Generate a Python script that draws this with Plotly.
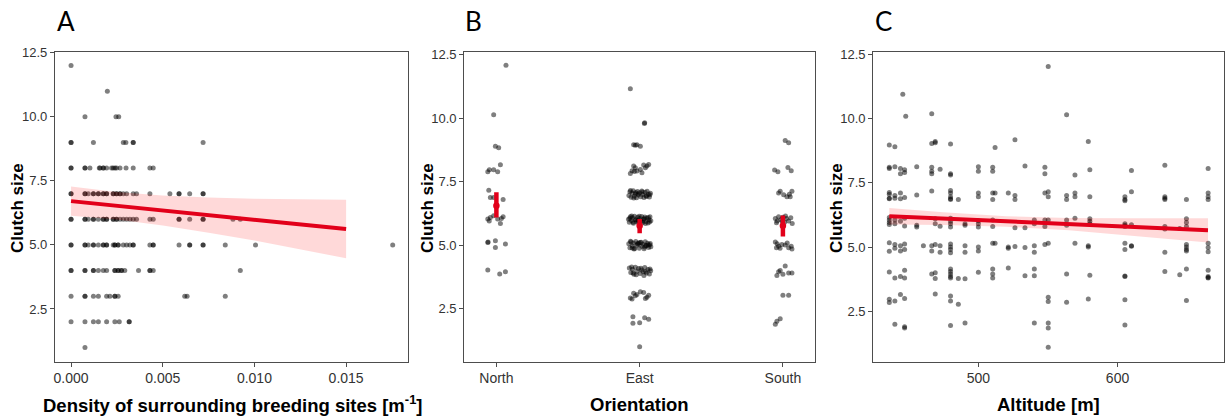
import plotly.graph_objects as go

W, H = 1227, 417

# ---------------- Panel A data: density of surrounding breeding sites, one list per clutch size
a_x_12 = [0.0]
a_x_11 = [0.00198]
a_x_10 = [0.00076, 0.00245, 0.0026]
a_x_9 = [0.0, 0.0, 0.00122, 0.00285, 0.00299, 0.00339, 0.00339, 0.0072]
a_x_8 = [0.0, 0.0, 0.00076, 0.00076, 0.00103, 0.00154, 0.00158, 0.00176, 0.00176, 0.00194,
         0.00221, 0.0023, 0.0024, 0.00248, 0.00267, 0.003, 0.00339, 0.0043, 0.00448]
a_x_7 = [0.0, 0.0, 0.00076, 0.00076, 0.00094, 0.00122, 0.00122, 0.00149, 0.00149, 0.00176,
         0.00176, 0.00194, 0.00194, 0.0023, 0.0023, 0.00248, 0.00248, 0.00267, 0.00267,
         0.00285, 0.00303, 0.00339, 0.00357, 0.0043, 0.00539, 0.00589, 0.00589, 0.00647,
         0.0072, 0.0072]
a_x_6 = [0.0, 0.0, 0.00076, 0.00076, 0.00094, 0.00122, 0.00122, 0.00149, 0.00176, 0.00176,
         0.00194, 0.00194, 0.0023, 0.0023, 0.00248, 0.00248, 0.00267, 0.00285, 0.00303,
         0.00321, 0.00339, 0.00357, 0.0043, 0.00448, 0.00589, 0.00589, 0.00647, 0.0072,
         0.0072, 0.00883, 0.00923]
a_x_5 = [0.0, 0.0, 0.00076, 0.00076, 0.00094, 0.00122, 0.00122, 0.00149, 0.00176, 0.00176,
         0.00194, 0.00194, 0.0023, 0.00239, 0.00239, 0.00257, 0.00257, 0.00285, 0.00303,
         0.00321, 0.00339, 0.00339, 0.0043, 0.00448, 0.00448, 0.00589, 0.00647, 0.00647,
         0.0072, 0.0072, 0.00841, 0.01006, 0.01754]
a_x_4 = [0.0, 0.0, 0.00076, 0.00076, 0.00122, 0.00122, 0.00149, 0.00176, 0.00194, 0.00239,
         0.00239, 0.00257, 0.00257, 0.00275, 0.00275, 0.00293, 0.00368, 0.0043, 0.0043,
         0.00448, 0.00923]
a_x_3 = [0.0, 0.00076, 0.00076, 0.00122, 0.00149, 0.00194, 0.00212, 0.00239, 0.00239,
         0.00257, 0.0062, 0.00633, 0.00841]
a_x_2 = [0.0, 0.00076, 0.00122, 0.00149, 0.00194, 0.00239, 0.00263, 0.00317, 0.00317]
a_x_1 = [0.00076]
a_sizes = [12, 11, 10, 9, 8, 7, 6, 5, 4, 3, 2, 1]
a_rows = [a_x_12, a_x_11, a_x_10, a_x_9, a_x_8, a_x_7, a_x_6, a_x_5, a_x_4, a_x_3, a_x_2, a_x_1]

a_band_x = [0.0, 0.0025, 0.005, 0.0075, 0.010, 0.0125, 0.015]
a_fit = [6.71, 6.53, 6.35, 6.17, 5.98, 5.80, 5.62]
a_upper = [7.28, 7.07, 6.93, 6.85, 6.80, 6.77, 6.76]
a_lower = [6.14, 5.99, 5.76, 5.48, 5.17, 4.83, 4.48]
a_xticks = [0.0, 0.005, 0.010, 0.015]
a_xticktext = ["0.000", "0.005", "0.010", "0.015"]

# ---------------- Panel B data: orientation (jittered points)
orient_cats = ["North", "East", "South"]
north_dx = [0.067, -0.019, -0.007, 0.016, -0.060, -0.049, -0.019, 0.009, 0.028,
            -0.053, -0.042, -0.019, 0.047, -0.060, -0.042, -0.019, 0.009, 0.028,
            0.047, -0.050, 0.035, -0.060, -0.007, -0.007, 0.063, -0.058, -0.060,
            0.023, 0.063]
north_y = [12.08, 10.13, 8.89, 8.83, 7.89, 7.97, 7.97, 7.89, 8.16,
           7.16, 6.87, 6.87, 6.80, 6.03, 6.09, 6.16, 6.03, 5.85,
           6.12, 5.95, 6.05, 5.10, 5.17, 4.91, 5.04, 5.12, 4.02,
           3.86, 3.95]
east_dx = [
    -0.065, 0.035, 0.033, -0.042, -0.019, 0.005, -0.030,
    -0.065, -0.042, -0.037, -0.019, 0.005, 0.028, 0.040, 0.051, 0.016, -0.030, 0.063, -0.053,
    -0.075, -0.068, -0.060, -0.052, -0.045, -0.038, -0.030, -0.022, -0.015, -0.008, 0.0,
    0.008, 0.015, 0.022, 0.030, 0.038, 0.045, 0.052, 0.060, 0.068, 0.075, -0.064, -0.041,
    -0.012, 0.019, 0.048, 0.071, -0.027,
    -0.078, -0.072, -0.065, -0.058, -0.050, -0.043, -0.036, -0.029, -0.021, -0.014,
    -0.007, 0.0, 0.007, 0.014, 0.021, 0.029, 0.036, 0.043, 0.050, 0.058, 0.065, 0.072,
    0.078, -0.069, -0.047, -0.025, -0.003, 0.018, 0.040, 0.061, -0.056, -0.011, 0.032, 0.069,
    -0.076, -0.068, -0.060, -0.051, -0.043, -0.035, -0.027, -0.019, -0.010, -0.002, 0.006,
    0.014, 0.022, 0.031, 0.039, 0.047, 0.055, 0.063, 0.071, 0.078, -0.064, -0.039, -0.015,
    0.010, 0.035, 0.060, -0.052, -0.006, 0.043, 0.074,
    -0.072, -0.062, -0.050, -0.040, -0.030, -0.018, -0.008, 0.003, 0.014, 0.025, 0.036,
    0.047, 0.058, 0.068, 0.077, -0.056, -0.024, 0.009, 0.041, 0.072, -0.045, 0.030,
    -0.065, -0.042, -0.019, 0.028, 0.051, -0.053, 0.005, 0.063, 0.040, -0.030,
    -0.047, -0.047, 0.0, 0.035, 0.063,
    0.0,
]
east_y = [
    11.16, 9.82, 9.79, 8.95, 8.95, 8.89, 8.93,
    7.82, 8.12, 7.90, 7.92, 7.98, 8.15, 8.05, 8.12, 7.85, 8.05, 8.17, 7.93,
    6.95, 7.10, 6.88, 7.05, 7.14, 6.92, 7.02, 6.86, 7.11, 6.97, 7.06,
    6.90, 7.13, 6.99, 6.87, 7.08, 6.94, 7.12, 7.00, 6.89, 7.04, 7.15, 6.85,
    7.01, 7.09, 6.91, 6.98, 7.07,
    6.02, 5.90, 6.12, 5.97, 6.08, 5.86, 6.14, 6.00, 5.92, 6.10,
    5.88, 6.05, 5.95, 6.13, 5.89, 6.03, 6.11, 5.93, 6.07, 5.87, 6.00, 6.12,
    5.96, 6.06, 5.90, 5.99, 6.14, 5.94, 5.85, 6.09, 6.15, 5.97, 6.04, 5.91,
    5.05, 4.90, 5.12, 4.96, 5.08, 4.87, 5.14, 4.99, 5.06, 4.88, 5.10,
    4.95, 5.03, 4.86, 5.13, 4.98, 5.07, 4.91, 5.01, 4.93, 5.15, 4.85, 5.04,
    5.11, 4.92, 5.00, 4.89, 5.09, 4.97, 5.06,
    4.10, 3.92, 4.05, 3.85, 4.13, 3.97, 4.08, 3.88, 4.02, 3.95, 4.12,
    3.90, 4.04, 3.86, 3.99, 4.14, 3.83, 4.09, 3.96, 4.06, 3.90, 3.80,
    2.92, 3.10, 3.05, 3.13, 2.95, 2.88, 3.16, 3.02, 2.90, 3.00,
    2.18, 1.92, 1.94, 2.14, 2.08,
    1.00,
]
south_dx = [0.016, 0.040, -0.058, -0.035, 0.035, 0.058,
            -0.019, 0.005, 0.028, 0.051, 0.063, -0.030, 0.045,
            -0.053, -0.040, -0.030, -0.015, 0.0, 0.012, 0.025, 0.040, 0.055, 0.065, -0.045, 0.018, -0.005,
            -0.053, -0.045, -0.030, -0.007, 0.016, 0.040, 0.058, -0.040, 0.030, 0.063, -0.020,
            -0.042, -0.019, 0.016, 0.040, 0.063, -0.030, 0.0,
            0.0, 0.040,
            -0.053, -0.042, -0.019]
south_y = [9.12, 9.03, 7.96, 7.89, 8.06, 7.93,
           7.12, 6.98, 6.90, 6.90, 7.12, 7.05, 7.00,
           6.05, 5.95, 6.12, 6.00, 6.10, 5.90, 6.05, 5.95, 6.08, 5.85, 5.88, 6.15, 5.93,
           5.12, 4.90, 4.95, 5.02, 5.00, 4.90, 4.95, 5.05, 5.08, 4.85, 4.88,
           3.80, 4.00, 4.18, 3.90, 3.90, 3.95, 3.85,
           3.02, 3.02,
           1.88, 2.00, 2.10]
b_mean = [6.55, 5.76, 5.76]
b_lo = [6.09, 5.47, 5.34]
b_hi = [7.08, 6.03, 6.17]

# ---------------- Panel C data: altitude vs clutch size
c_alt = (
    [436] * 16 + [440] * 11 + [444] * 9 + [447] * 12 + [445.7, 447.8]
    + [455.7] * 4 + [460.5] + [466.5] * 9 + [469] * 8 + [472.5] * 4
    + [480] * 24 + [485.6] * 3 + [490.4] * 6 + [500] * 10 + [510.3] * 10 + [512] * 3
    + [521.5] * 4 + [526.3] * 5 + [533.5] * 4 + [540.2] * 7 + [547.8] * 6 + [550.2] * 10
    + [563.4] * 7 + [569.4] * 5 + [579] * 4 + [580.1] * 6 + [605.3] * 12 + [610] * 5
    + [634] * 8 + [644.7] * 2 + [649.5] * 10 + [665.1] * 11
)
c_clutch = [
    8.97, 8.10, 8.05, 7.12, 7.05, 6.90, 6.88, 6.15, 6.05, 5.95, 5.88, 5.17, 4.84, 4.03, 2.97, 2.84,
    8.90, 8.12, 7.00, 6.90, 6.05, 5.90, 5.10, 4.95, 3.80, 2.90, 2.00,
    8.05, 7.85, 7.10, 6.88, 6.00, 5.05, 4.85, 3.15, 3.85,
    8.00, 7.90, 6.92, 6.12, 5.82, 5.12, 4.90, 4.10, 3.80, 3.00, 1.85, 1.90,
    10.94, 10.08,
    8.12, 7.02, 5.85, 5.78,
    5.05,
    10.18, 9.02, 8.10, 7.95, 7.85, 7.18, 5.05, 4.85, 3.95,
    9.05, 9.10, 6.10, 5.90, 5.10, 4.00, 3.78, 3.17,
    8.02, 5.81, 5.05, 4.80,
    9.00, 7.85, 7.80, 7.20, 7.10, 6.95, 6.88, 6.85, 6.12, 6.00, 5.90, 5.78,
    5.12, 5.00, 4.90, 4.78, 4.15, 4.05, 3.95, 3.85, 3.80, 3.10, 2.90, 1.95,
    6.85, 3.78, 2.78,
    5.90, 5.85, 5.05, 4.80, 3.77, 2.05,
    8.12, 7.95, 7.10, 6.95, 6.02, 5.90, 5.78, 5.00, 4.85, 4.02,
    8.10, 7.95, 7.10, 6.85, 6.05, 5.80, 5.15, 4.15, 3.95, 3.80,
    8.87, 7.10, 5.15,
    7.10, 5.00, 4.95, 4.18,
    9.17, 7.00, 6.85, 5.75, 5.02,
    8.15, 5.75, 4.98, 3.88,
    6.05, 5.90, 5.05, 4.80, 4.15, 3.88, 2.05,
    8.10, 7.85, 7.10, 6.05, 5.80, 5.10,
    12.02, 7.15, 6.95, 6.05, 5.15, 3.05, 2.88, 2.05, 1.85, 1.10,
    10.14, 7.00, 6.85, 6.05, 5.85, 3.95, 2.85,
    7.80, 7.10, 6.95, 6.12, 5.15,
    9.10, 5.05, 5.00, 2.98,
    8.00, 6.95, 6.10, 6.00, 5.90, 3.90,
    6.95, 6.80, 6.85, 5.90, 5.80, 5.85, 5.15, 4.90, 3.87, 3.85, 2.95, 1.97,
    7.97, 7.15, 5.87, 5.05, 5.03,
    8.18, 6.95, 6.85, 6.90, 5.80, 5.70, 4.80, 4.05,
    5.72, 3.92,
    6.85, 6.10, 5.95, 5.80, 5.10, 5.00, 4.90, 4.85, 4.15, 2.92,
    8.05, 7.10, 6.95, 6.85, 5.15, 4.98, 4.82, 4.10, 3.85, 3.80, 3.82,
]
c_band_x = [436, 475, 520, 565, 610, 665]
c_fit = [6.20, 6.11, 6.00, 5.89, 5.78, 5.65]
c_upper = [6.52, 6.35, 6.20, 6.13, 6.12, 6.12]
c_lower = [5.88, 5.86, 5.79, 5.65, 5.45, 5.18]
c_xticks = [500, 600]

y_ticks = [2.5, 5.0, 7.5, 10.0, 12.5]
y_ticktext = ["2.5", "5.0", "7.5", "10.0", "12.5"]

# ---------------- styling
RED = "rgb(226,0,26)"
BAND = "rgba(255,0,0,0.15)"
PT = dict(color="rgba(0,0,0,0.5)", size=5, line=dict(width=0))
TICKFONT = dict(family="Liberation Sans, Arial", size=13, color="#333333")
XTICKFONT = dict(family="Liberation Sans, Arial", size=14, color="#333333")
TITLEFONT = dict(family="Liberation Sans, Arial", size=18.5, color="#000000")
YTITLEFONT = dict(family="Liberation Sans, Arial", size=17, color="#000000")
LETTERFONT = dict(family="Lato, Liberation Sans", size=26, color="#000000")

a_density = [x for row in a_rows for x in row]
a_clutch = [s for s, row in zip(a_sizes, a_rows) for _ in row]

fig = go.Figure()

# Panel A
fig.add_trace(go.Scatter(x=a_density, y=a_clutch, mode="markers", marker=PT,
                         xaxis="x", yaxis="y", hoverinfo="skip"))
fig.add_trace(go.Scatter(x=a_band_x + a_band_x[::-1], y=a_upper + a_lower[::-1],
                         mode="lines", fill="toself", fillcolor=BAND,
                         line=dict(width=0), xaxis="x", yaxis="y", hoverinfo="skip"))
fig.add_trace(go.Scatter(x=a_band_x, y=a_fit, mode="lines",
                         line=dict(color=RED, width=4), xaxis="x", yaxis="y"))

# Panel B
for i, (dxs, ys) in enumerate([(north_dx, north_y), (east_dx, east_y), (south_dx, south_y)]):
    fig.add_trace(go.Scatter(x=[i + 1 + d for d in dxs], y=ys, mode="markers", marker=PT,
                             xaxis="x2", yaxis="y2", hoverinfo="skip"))
fig.add_trace(go.Scatter(
    x=[1, 2, 3], y=b_mean, mode="markers",
    marker=dict(color=RED, size=6.5, line=dict(width=0)),
    error_y=dict(type="data", symmetric=False,
                 array=[h - m for h, m in zip(b_hi, b_mean)],
                 arrayminus=[m - l for m, l in zip(b_mean, b_lo)],
                 color=RED, thickness=4.5, width=0),
    xaxis="x2", yaxis="y2"))

# Panel C
fig.add_trace(go.Scatter(x=c_alt, y=c_clutch, mode="markers", marker=PT,
                         xaxis="x3", yaxis="y3", hoverinfo="skip"))
fig.add_trace(go.Scatter(x=c_band_x + c_band_x[::-1], y=c_upper + c_lower[::-1],
                         mode="lines", fill="toself", fillcolor=BAND,
                         line=dict(width=0), xaxis="x3", yaxis="y3", hoverinfo="skip"))
fig.add_trace(go.Scatter(x=c_band_x, y=c_fit, mode="lines",
                         line=dict(color=RED, width=4), xaxis="x3", yaxis="y3"))


def px_x(p):
    return p / W


def px_y(p):
    return 1 - p / H


YDOM = [px_y(361.5), px_y(51.5)]
axis_common = dict(showline=True, mirror=True, linecolor="#4d4d4d", linewidth=1.2,
                   ticks="outside", ticklen=4, tickcolor="#4d4d4d", tickwidth=1,
                   showgrid=False, zeroline=False)

fig.update_layout(
    width=W, height=H, margin=dict(l=0, r=0, t=0, b=0),
    paper_bgcolor="white", plot_bgcolor="white", showlegend=False,
    template="none",
    xaxis=dict(domain=[px_x(55), px_x(408)], range=[-0.000875, 0.018375],
               tickvals=a_xticks, ticktext=a_xticktext, tickfont=XTICKFONT,
               anchor="y", **axis_common),
    yaxis=dict(domain=YDOM, range=[0.45, 12.55], tickvals=y_ticks, ticktext=y_ticktext,
               tickfont=TICKFONT, anchor="x", **axis_common),
    xaxis2=dict(domain=[px_x(464.3), px_x(815)], range=[0.776, 3.224],
                tickvals=[1, 2, 3], ticktext=orient_cats, tickfont=XTICKFONT,
                anchor="y2", **axis_common),
    yaxis2=dict(domain=YDOM, range=[0.415, 12.625], tickvals=y_ticks, ticktext=y_ticktext,
                tickfont=TICKFONT, anchor="x2", **axis_common),
    xaxis3=dict(domain=[px_x(873.3), px_x(1224)], range=[424.5, 676.5],
                tickvals=c_xticks, ticktext=[str(v) for v in c_xticks], tickfont=XTICKFONT,
                anchor="y3", **axis_common),
    yaxis3=dict(domain=YDOM, range=[0.55, 12.6], tickvals=y_ticks, ticktext=y_ticktext,
                tickfont=TICKFONT, anchor="x3", **axis_common),
)

ann = []
for letter, xp in [("A", 55), ("B", 463), ("C", 873)]:
    ann.append(dict(text=letter, x=px_x(xp), y=px_y(21), xref="paper", yref="paper",
                    xanchor="left", yanchor="middle", showarrow=False, font=LETTERFONT))
for title, xc in [("Density of surrounding breeding sites [m<sup>-1</sup>]", 233),
                  ("Orientation", 639.5), ("Altitude [m]", 1048.5)]:
    ann.append(dict(text="<b>" + title + "</b>", x=px_x(xc), y=px_y(404), xref="paper",
                    yref="paper", xanchor="center", yanchor="middle", showarrow=False,
                    font=TITLEFONT))
for xc in [17, 427, 836]:
    ann.append(dict(text="<b>Clutch size</b>", x=px_x(xc), y=px_y(208), xref="paper",
                    yref="paper", xanchor="center", yanchor="middle", textangle=-90,
                    showarrow=False, font=YTITLEFONT))
fig.update_layout(annotations=ann)

fig.write_html("out.html")
